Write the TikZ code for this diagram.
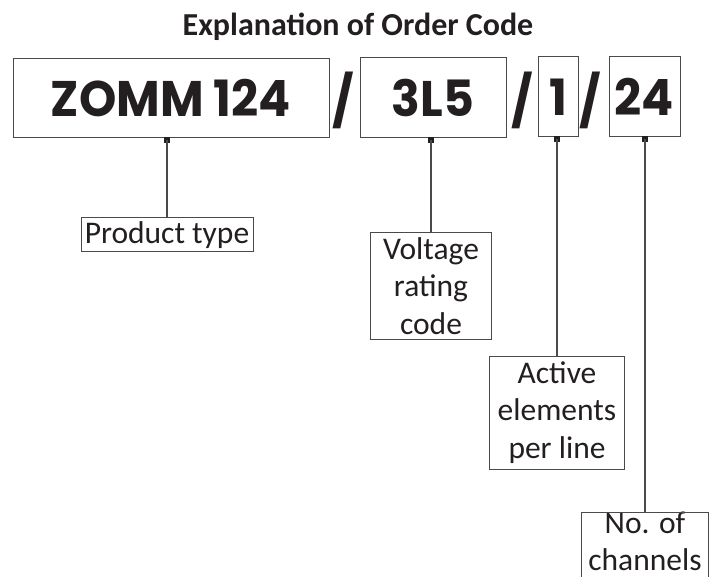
\documentclass[tikz,border=0pt]{standalone}
\usepackage{fontspec}
\setmainfont{Carlito}
\newfontfamily\codefont[FakeStretch=0.95]{Poppins}
\definecolor{boxgray}{HTML}{4A4A4A}
\definecolor{linegray}{HTML}{4A4A4A}
\definecolor{textblack}{HTML}{231F20}
\tikzset{
  codebox/.style={draw=boxgray, line width=1pt, inner sep=0pt, text=textblack,
    font=\codefont\bfseries\fontsize{50}{50}\selectfont},
  slashtext/.style={inner sep=0pt, text=textblack,
    font=\codefont\bfseries\fontsize{50}{50}\selectfont},
  labelbox/.style={draw=boxgray, line width=1pt, inner sep=0pt, align=center, text=textblack,
    font=\fontsize{31.5}{37.5}\selectfont},
  labeltext/.style={inner sep=0pt, align=center, text=textblack,
    font=\fontsize{31.5}{37.5}\selectfont},
  boxline/.style={draw=boxgray, line width=1pt},
  conn/.style={draw=linegray, line width=1.3pt},
  marker/.style={fill=textblack, minimum size=5.5pt, inner sep=0pt},
  titletext/.style={inner sep=0pt, text=textblack, font=\bfseries\fontsize{32}{38}\selectfont}
}
\begin{document}
\begin{tikzpicture}[x=1pt,y=-1pt]
\path[use as bounding box, clip] (0,0) rectangle (712,577);
\fill[white] (0,0) rectangle (712,577);

\node[titletext, anchor=base] (title) at (358,36) {Explanation of Order Code};

% code boxes
\node[codebox, minimum width=316, minimum height=79] (c1) at (171,98.5) {ZOMM 124};
\node[codebox, minimum width=146, minimum height=80] (c2) at (433,98) {3L5};
\node[codebox, minimum width=40, minimum height=80] (c3) at (558,97) {1};
\node[codebox, minimum width=71, minimum height=80] (c4) at (644.5,97) {24};

% slashes
\node[slashtext] (s1) at (343,100) {/};
\node[slashtext] (s2) at (522,100) {/};
\node[slashtext] (s3) at (590,100) {/};

% labels
\node[labelbox, minimum width=172, minimum height=34] (l1) at (167,235) {Product type};
\node[labelbox, minimum width=121, minimum height=106] (l2) at (431,286) {Voltage\\rating\\code};
\node[labelbox, minimum width=135, minimum height=113] (l3) at (557,412.5) {Active\\elements\\per line};
\node[labeltext, minimum width=127] (l4) at (645,541.5) {No. of\\channels};
\draw[boxline] (l4.west |- 0,600) -- (l4.west |- 0,512) -- (l4.east |- 0,512) -- (l4.east |- 0,600);
\coordinate (l4top) at (l4.center |- 0,512);

% markers
\node[marker] (m1) at ([yshift=-1.5pt]l1.north |- c1.south) {};
\node[marker] (m2) at ([yshift=-1.5pt]l2.north |- c2.south) {};
\node[marker] (m3) at ([yshift=-1.5pt]l3.north |- c3.south) {};
\node[marker] (m4) at ([yshift=-1.5pt]l4top |- c4.south) {};

% connectors
\draw[conn] (m1.center) -- (l1.north);
\draw[conn] (m2.center) -- (l2.north);
\draw[conn] (m3.center) -- (l3.north);
\draw[conn] (m4.center) -- (l4top);
\end{tikzpicture}
\end{document}
